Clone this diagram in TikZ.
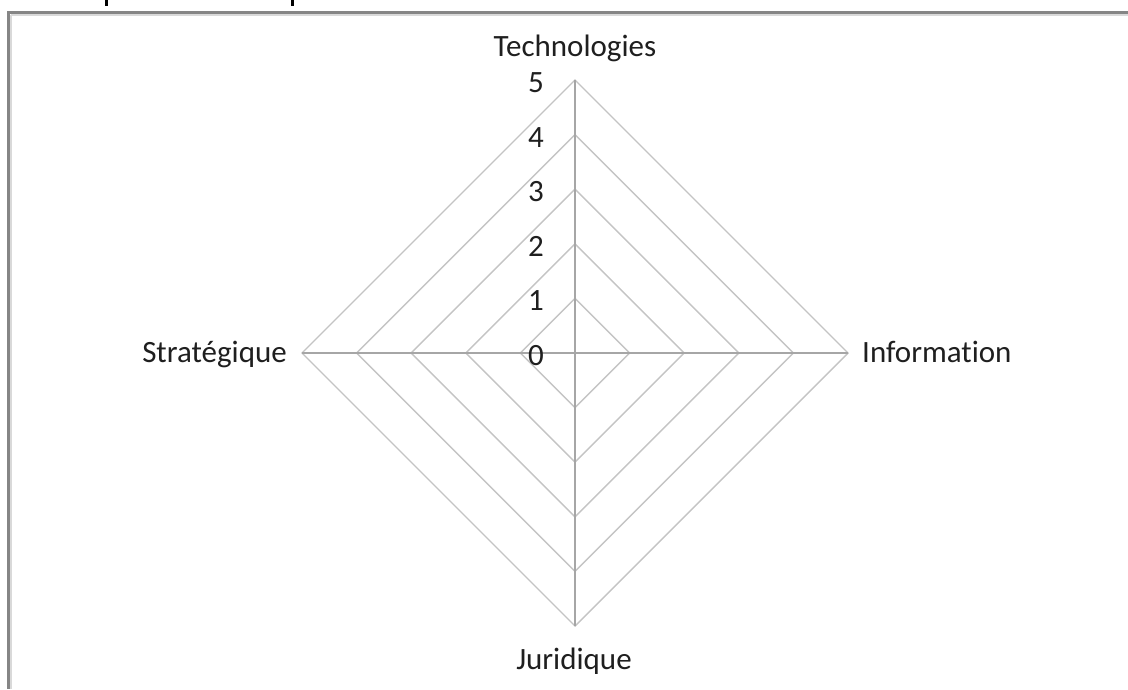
\documentclass[tikz,border=0pt]{standalone}
\usepackage{fontspec}
\usetikzlibrary{calc}
\setmainfont[Ligatures={NoCommon}]{Carlito}
\definecolor{gridc}{HTML}{C4C4C4}
\definecolor{axisc}{HTML}{A6A6A6}
\definecolor{framec}{HTML}{858585}
\definecolor{framelt}{HTML}{D9D9D9}
\definecolor{txtc}{HTML}{1F1F1F}
\tikzset{
  gridline/.style={draw=gridc, line width=1.4pt, line join=miter},
  axisline/.style={draw=axisc, line width=1.4pt},
  catlabel/.style={inner sep=0pt, text=txtc, font=\fontsize{31}{37}\selectfont},
  numlabel/.style={inner sep=0pt, text=txtc, font=\fontsize{31}{37}\selectfont},
}
\begin{document}
\begin{tikzpicture}[x=1pt,y=-1pt]
\useasboundingbox (0,0) rectangle (1128,689);
\fill[white] (0,0) rectangle (1128,689);
% frame
\draw[framelt, line width=1.5pt] (10.5,15) -- (1128,15);
\draw[framelt, line width=1.5pt] (11,15) -- (11,689);
\draw[framec, line width=2.6pt] (8.5,12.5) -- (1128,12.5);
\draw[framec, line width=2.6pt] (8.5,11.2) -- (8.5,689);
% cut-off title fragments
\fill[black] (104.5,0) rectangle (108,6);
\fill[black] (290.5,0) rectangle (294,6);
% chart
\coordinate (c) at (575,353);
\foreach \k in {1,...,5}{
  \pgfmathsetmacro{\r}{54.6*\k}
  \draw[gridline] ($(c)+(0,-\r)$) -- ($(c)+(\r,0)$) -- ($(c)+(0,\r)$) -- ($(c)+(-\r,0)$) -- cycle;
}
\coordinate (top) at (575,80);
\coordinate (right) at (848,353);
\coordinate (bottom) at (575,626);
\coordinate (left) at (302,353);
\draw[axisline] (c) -- (top);
\draw[axisline] (c) -- (right);
\draw[axisline] (c) -- (bottom);
\draw[axisline] (c) -- (left);
% numbers
\foreach \k in {0,...,5}{
  \pgfmathsetmacro{\yy}{353-54.6*\k+2.5}
  \node[numlabel] (n\k) at (536,\yy) {\k};
}
% category labels
\node[catlabel, anchor=base] (tech) at (575,56) {Technologies};
\node[catlabel, anchor=base west] (info) at (862,362) {Information};
\node[catlabel, anchor=base] (juri) at (574,669) {Juridique};
\node[catlabel, anchor=base east] (strat) at (287,362) {Stratégique};
\end{tikzpicture}
\end{document}
